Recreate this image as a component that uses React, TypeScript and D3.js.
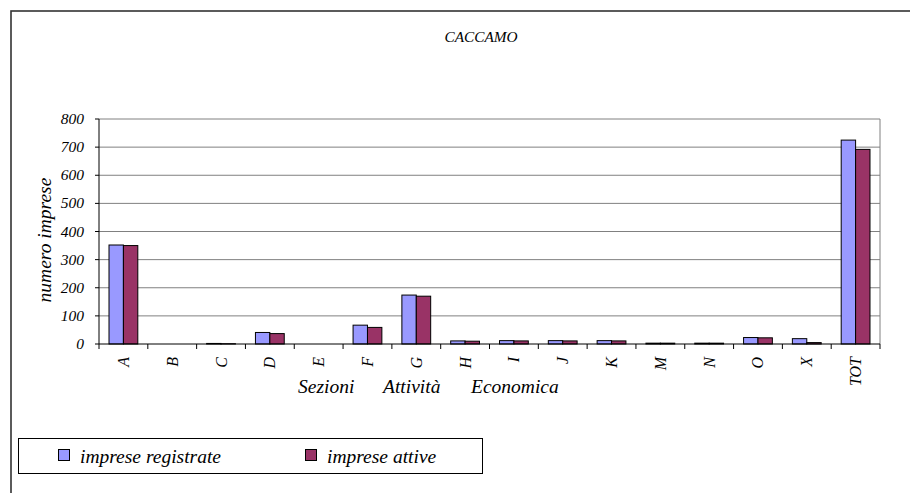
import React from "react";
import * as d3 from "d3";

const categories = ["A", "B", "C", "D", "E", "F", "G", "H", "I", "J", "K", "M", "N", "O", "X", "TOT"];
const registrate = [352, 0, 2, 41, 0, 67, 174, 11, 12, 12, 12, 3, 3, 23, 19, 725];
const attive = [350, 0, 1, 37, 0, 59, 170, 10, 11, 11, 11, 3, 3, 22, 5, 692];
const yTicks = [0, 100, 200, 300, 400, 500, 600, 700, 800];
const seriesNames = ["imprese registrate", "imprese attive"];
const colors = ["#9999FF", "#993366"];
const title = "CACCAMO";

const W = 910, H = 493;
const L = 99, R = 880, T = 119, B = 344;
const FONT = "Liberation Serif";

export default function App() {
  const x = d3.scaleBand<string>().domain(categories).range([L, R]).paddingInner(0).paddingOuter(0);
  const y = d3.scaleLinear().domain([0, 800]).range([B, T]);
  const bw = x.bandwidth() * 0.295;
  const series = [registrate, attive];

  return (
    <svg width={W} height={H} style={{ position: "absolute", left: 0, top: 0, background: "#fff" }}>
      <rect x={11} y={11} width={W + 10} height={H + 10} fill="none" stroke="#333" strokeWidth={1.6} />
      <text x={481} y={42} textAnchor="middle" fontFamily={FONT} fontStyle="italic" fontSize={15.3} fill="#000">{title}</text>

      {yTicks.filter(t => t > 0).map(t => (
        <line key={t} x1={L} x2={R} y1={y(t)} y2={y(t)} stroke="#808080" strokeWidth={1} />
      ))}
      <line x1={R} x2={R} y1={T} y2={B} stroke="#808080" strokeWidth={1} />

      {categories.map((c, i) => {
        const cx = (x(c) as number) + x.bandwidth() / 2;
        return series.map((s, j) => {
          const v = s[i];
          const x0 = cx - bw + j * bw;
          const h = B - y(v);
          return (
            <rect key={c + j} x={x0} y={y(v)} width={bw} height={Math.max(h, 0)}
              fill={colors[j]} stroke="#000" strokeWidth={1} />
          );
        });
      })}

      <line x1={L} x2={L} y1={T} y2={B} stroke="#000" strokeWidth={1} />
      <line x1={L} x2={R} y1={B} y2={B} stroke="#000" strokeWidth={1} />
      {yTicks.map(t => (
        <g key={t}>
          <line x1={L - 4} x2={L} y1={y(t)} y2={y(t)} stroke="#000" />
          <text x={L - 15} y={y(t) + 5} textAnchor="end" fontFamily={FONT} fontStyle="italic" fontSize={15.5} fill="#000">{t}</text>
        </g>
      ))}
      {categories.map(c => (
        <line key={"t" + c} x1={x(c) as number} x2={x(c) as number} y1={B} y2={B + 5} stroke="#000" />
      ))}
      <line x1={R} x2={R} y1={B} y2={B + 5} stroke="#000" />
      {categories.map(c => {
        const cx = (x(c) as number) + x.bandwidth() / 2;
        return (
          <text key={"l" + c} transform={`translate(${cx + 5.5},357) rotate(-90)`} textAnchor="end"
            fontFamily={FONT} fontStyle="italic" fontSize={16} fill="#000">{c}</text>
        );
      })}

      <text transform={`translate(51,240) rotate(-90)`} textAnchor="middle" fontFamily={FONT} fontStyle="italic" fontSize={19.5} fill="#000">numero imprese</text>
      <text y={393} fontFamily={FONT} fontStyle="italic" fontSize={19.5} fill="#000">
        <tspan x={298}>Sezioni</tspan>
        <tspan x={383}>Attività</tspan>
        <tspan x={471}>Economica</tspan>
      </text>

      <rect x={18.5} y={438.5} width={464} height={35} fill="#fff" stroke="#000" strokeWidth={1} />
      {seriesNames.map((n, j) => {
        const lx = j === 0 ? 58 : 305;
        return (
          <g key={n}>
            <rect x={lx + 0.5} y={449.5} width={11} height={11} fill={colors[j]} stroke="#000" strokeWidth={1} />
            <text x={lx + 22} y={463} fontFamily={FONT} fontStyle="italic" fontSize={19.5} fill="#000">{n}</text>
          </g>
        );
      })}
    </svg>
  );
}
